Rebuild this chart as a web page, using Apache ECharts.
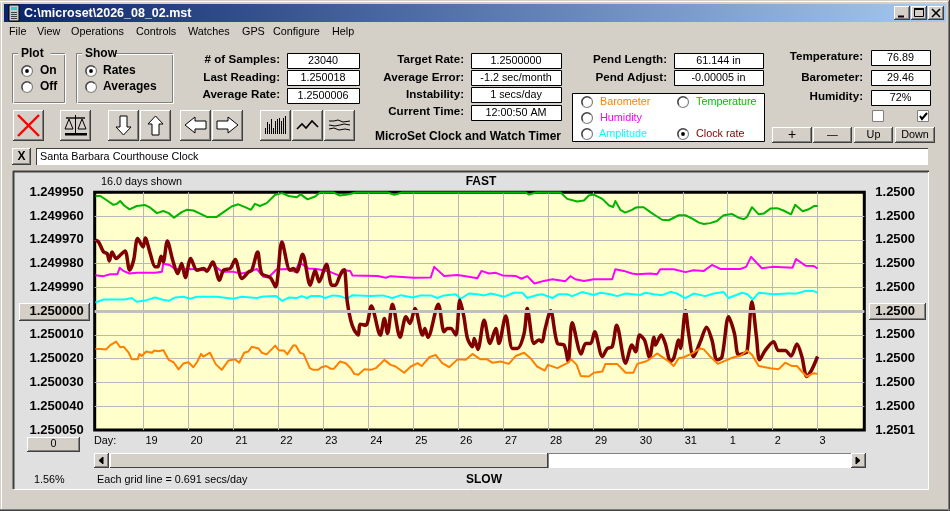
<!DOCTYPE html>
<html><head><meta charset="utf-8">
<style>html,body{margin:0;padding:0;background:#d4d0c8}#c{width:950px;height:511px}</style>
<script src="https://cdn.jsdelivr.net/npm/echarts@6/dist/echarts.min.js"></script>
</head><body><div id="c"></div>
<script>
// Rates are stored as the offset from 1.250000 in millionths; days run on past 31 into the next month.
const dayTicks=[19,20,21,22,23,24,25,26,27,28,29,30,31,32,33,34];
const dayLabels=['19','20','21','22','23','24','25','26','27','28','29','30','31','1','2','3'];
const leftTicks=['1.249950','1.249960','1.249970','1.249980','1.249990','1.250000','1.250010','1.250020','1.250030','1.250040','1.250050'];
const rightTicks=['1.2500','1.2500','1.2500','1.2500','1.2500','1.2500','1.2500','1.2500','1.2500','1.2500','1.2501'];
const clockRate=[[17.93,-29.8],[18,-29.1],[18.11,-24.9],[18.19,-24.2],[18.24,-21.1],[18.3,-24.9],[18.39,-22.1],[18.48,-23.5],[18.59,-25.3],[18.69,-17.2],[18.78,-21.4],[18.87,-30.5],[18.99,-27],[19.04,-30.7],[19.15,-24.2],[19.26,-18.6],[19.32,-18.6],[19.39,-23.1],[19.44,-20.7],[19.53,-29.5],[19.65,-21.4],[19.76,-15.8],[19.85,-20],[19.93,-14.1],[20.05,-22.1],[20.19,-17.2],[20.34,-17.9],[20.41,-16.8],[20.54,-20.7],[20.69,-13],[20.78,-17.2],[20.93,-17.9],[21.04,-21.7],[21.19,-13.7],[21.34,-16.5],[21.41,-17.2],[21.54,-24.9],[21.63,-15.8],[21.82,-14.1],[21.94,-10.2],[22.08,-29.1],[22.26,-17.2],[22.34,-17.9],[22.41,-16.5],[22.54,-23.9],[22.71,-10.9],[22.82,-17.2],[22.91,-12.3],[23.07,-19.7],[23.19,-10.9],[23.27,-10.9],[23.36,-14.4],[23.43,-17],[23.47,-17.4],[23.5,-13],[23.53,-4.6],[23.61,3.8],[23.69,8],[23.78,10.1],[23.82,5.5],[23.95,5.9],[24.07,-2.1],[24.27,10.1],[24.36,3.1],[24.43,9.4],[24.54,-2.9],[24.71,11],[24.84,2.4],[24.93,5.2],[25.04,-1.1],[25.21,10.1],[25.26,7.3],[25.33,11],[25.56,-2.9],[25.69,8.7],[25.76,7.3],[25.84,7.3],[25.95,10.1],[26.04,-4.6],[26.13,2.4],[26.21,11.5],[26.32,15],[26.36,11.5],[26.44,16.1],[26.58,3.8],[26.71,13.6],[26.84,7.3],[26.91,13.6],[27.06,2.1],[27.21,15.7],[27.32,15.7],[27.47,9.4],[27.54,-1.1],[27.69,13.6],[27.8,12.2],[27.87,12.9],[27.93,8],[28.06,-0.1],[28.21,13.6],[28.36,14.3],[28.45,21.2],[28.54,4.9],[28.74,18],[28.84,13.6],[28.95,13.6],[29.04,8.7],[29.21,19.1],[29.32,15.7],[29.43,15],[29.53,5.9],[29.73,21.9],[29.87,14.3],[29.95,17.1],[30.04,10.1],[30.15,12.2],[30.26,19.4],[30.36,11],[30.39,14.3],[30.52,10.1],[30.61,13.6],[30.73,21.2],[30.8,19.8],[30.91,12.2],[30.95,15.7],[31.06,-0.1],[31.13,9.4],[31.24,19.1],[31.39,12.9],[31.53,6.8],[31.65,12.2],[31.76,20.5],[31.87,19.4],[32.02,2.4],[32.15,9.4],[32.24,18.4],[32.36,17.8],[32.43,17.1],[32.54,-3.9],[32.64,10.8],[32.71,20.5],[32.84,16.4],[33.02,12.9],[33.13,16.6],[33.28,16.6],[33.41,18.9],[33.54,13.8],[33.65,19.1],[33.76,27.5],[33.87,24.7],[34,19.1]];
const barometer=[[17.93,15.9],[18.04,15.9],[18.17,16.1],[18.26,14.3],[18.39,12.8],[18.48,15.2],[18.56,15],[18.67,17.5],[18.74,20.3],[18.87,20.3],[18.91,18],[18.96,18.9],[19.06,17],[19.19,17.5],[19.24,16.6],[19.33,16.9],[19.44,16.4],[19.56,20.5],[19.67,21.5],[19.78,24.5],[19.89,22],[20,21.5],[20.11,23.6],[20.2,21.2],[20.28,18],[20.33,19.1],[20.48,17.5],[20.61,22.4],[20.74,24.7],[20.89,20.8],[21.04,20.3],[21.13,21.7],[21.24,17.5],[21.33,17],[21.41,15],[21.56,15.7],[21.63,17.5],[21.74,18.2],[21.85,16.1],[21.93,14.5],[22.02,16.6],[22.13,16.6],[22.2,18.2],[22.33,14.5],[22.39,14.5],[22.48,17.5],[22.56,18],[22.7,24],[22.78,24.7],[22.89,24.7],[22.96,23.6],[23.07,23.1],[23.16,24.2],[23.24,24.2],[23.37,21.2],[23.5,21.9],[23.61,24],[23.69,26.4],[23.78,26.8],[23.91,24.5],[24.06,24.7],[24.17,24],[24.36,20.5],[24.5,22.6],[24.61,23.3],[24.8,25.9],[24.95,23.3],[25.1,21.9],[25.19,23.1],[25.36,19.4],[25.5,18.4],[25.65,21.9],[25.8,23.6],[25.99,20.3],[26.17,20.5],[26.32,18],[26.5,20.3],[26.65,20.3],[26.76,21.7],[26.95,21.2],[27.13,22.2],[27.28,18.9],[27.47,17.5],[27.61,19.8],[27.76,23.3],[27.93,25],[28,22.6],[28.21,24],[28.43,21.9],[28.52,20.3],[28.64,22.6],[28.73,27.3],[28.91,27.5],[29.02,25.9],[29.21,25.4],[29.28,22.2],[29.54,22.2],[29.73,25.9],[29.9,25.9],[29.99,22.2],[30.17,21.2],[30.24,20.5],[30.32,19.4],[30.43,17.8],[30.58,19.8],[30.69,21.2],[30.8,23.1],[30.91,19.8],[31.02,19.4],[31.21,17.8],[31.39,15.7],[31.47,16.1],[31.61,19.1],[31.78,22.2],[31.99,20.5],[32.13,19.4],[32.28,18.9],[32.43,16.6],[32.54,18.4],[32.69,23.1],[32.95,24],[33.13,24.5],[33.28,21.7],[33.43,23.1],[33.54,23.1],[33.65,25.4],[33.76,27.5],[33.91,26.1],[34,26.4]];
const temperature=[[17.93,-48.4],[18.04,-48.4],[18.19,-46.5],[18.33,-44.7],[18.41,-45.1],[18.48,-46.3],[18.57,-44.4],[18.69,-42.8],[18.85,-44.2],[19.04,-44.6],[19.15,-43.5],[19.3,-41.2],[19.44,-42.1],[19.56,-41.2],[19.68,-39.3],[19.85,-41.6],[19.96,-42.6],[20.11,-42.3],[20.26,-41],[20.41,-39.6],[20.63,-39.6],[20.78,-41.6],[20.96,-44],[21.11,-44.9],[21.26,-43.7],[21.39,-42.6],[21.48,-45.1],[21.59,-44.2],[21.74,-45.4],[21.93,-48.9],[22.08,-49.6],[22.23,-48.4],[22.41,-47.9],[22.5,-49.1],[22.65,-47],[22.82,-48.2],[22.93,-49.9],[23.22,-49.9],[23.37,-48.6],[23.39,-49.3],[23.54,-49],[23.73,-49.9],[24.43,-49.9],[24.58,-48.9],[24.76,-49.9],[27.5,-49.9],[27.58,-49],[27.73,-49.9],[28.28,-49.9],[28.43,-47.2],[28.65,-46.1],[28.8,-46.5],[28.91,-48.6],[29.02,-49],[29.21,-47.2],[29.36,-44.4],[29.45,-43.8],[29.5,-46.3],[29.61,-42.6],[29.72,-41.4],[29.87,-42.6],[29.95,-43.5],[30,-43.7],[30.13,-43.7],[30.28,-41.6],[30.41,-40],[30.54,-38.4],[30.69,-38.2],[30.91,-40.3],[31.06,-40.3],[31.21,-38.9],[31.36,-37.2],[31.47,-36.6],[31.61,-37],[31.76,-37.9],[31.91,-40.3],[32.1,-40.8],[32.24,-39.3],[32.36,-38.6],[32.43,-39.6],[32.54,-43.7],[32.69,-40.7],[32.8,-41],[32.95,-43.1],[33.1,-43.3],[33.24,-42.3],[33.41,-40.7],[33.5,-44.7],[33.67,-42],[33.8,-42.8],[33.93,-44.2],[34,-44.2]];
const humidity=[[17.93,-15.1],[18.11,-14.7],[18.26,-15.5],[18.42,-15.5],[18.47,-18.2],[18.56,-16.8],[18.69,-15.8],[18.85,-16.1],[19.26,-16.1],[19.41,-16.5],[19.44,-20],[19.59,-19.3],[19.7,-17.7],[19.89,-17.7],[20.19,-17.6],[20.33,-17.2],[20.44,-17.5],[20.52,-19.7],[20.63,-18.3],[20.76,-16.5],[21,-16.5],[21.19,-15.8],[21.34,-16.5],[21.52,-17.7],[21.67,-14.4],[21.78,-14.1],[21.96,-17.5],[22.19,-17.7],[22.37,-16.5],[22.47,-20.5],[22.67,-17.9],[22.85,-17.7],[23.11,-16.8],[23.37,-14.8],[23.47,-17.2],[23.6,-16.9],[23.65,-15],[24.21,-14.8],[24.39,-14],[24.5,-14.7],[25.02,-14],[25.39,-14.1],[25.47,-18.6],[25.69,-14.8],[25.99,-15.2],[26.24,-14.4],[26.43,-13.8],[26.52,-16.9],[26.69,-15.8],[26.84,-16.1],[26.99,-15],[27.28,-14.8],[27.41,-13.6],[27.54,-14.7],[27.7,-11.6],[27.91,-12.7],[28.1,-13.4],[28.39,-12.6],[28.5,-14.7],[28.61,-13.4],[28.8,-12.7],[29.02,-13.4],[29.43,-13.4],[29.5,-17.6],[29.69,-16.9],[29.87,-15.8],[29.99,-15.5],[30.28,-15.8],[30.43,-15.5],[30.5,-17.6],[30.8,-17.6],[31.06,-16.4],[31.24,-17.2],[31.47,-16.9],[31.65,-19.4],[31.84,-17.7],[32.28,-17.7],[32.41,-18.6],[32.52,-22.8],[32.76,-18],[32.99,-18.6],[33.44,-18.2],[33.52,-21.9],[33.73,-19.1],[33.91,-19],[34,-17.9]];
const amplitude=[[17.93,-3.6],[18.11,-4.9],[18.33,-4.9],[18.59,-4.9],[18.74,-5.5],[18.85,-3.9],[19.07,-4.6],[19.26,-5.7],[19.41,-4.9],[19.56,-4.3],[19.7,-5.7],[19.89,-6],[20.04,-5.2],[20.19,-6],[20.63,-6],[21,-5.2],[21.19,-6],[21.52,-5.5],[21.67,-6.1],[21.95,-6.3],[22.09,-4.3],[22.23,-5.7],[22.41,-5.5],[22.52,-6.3],[22.63,-5.5],[22.74,-6.4],[22.93,-6.3],[23.04,-5.5],[23.22,-6.6],[23.37,-6.3],[23.53,-5.2],[23.65,-6.7],[24.06,-6.3],[24.32,-6.6],[24.54,-5.5],[24.73,-6.7],[24.99,-5.7],[25.17,-6.6],[25.39,-6.6],[25.54,-5.5],[25.69,-6.6],[25.95,-7.1],[26.06,-5.2],[26.24,-7.4],[26.43,-7.1],[26.58,-6.6],[26.73,-7.4],[26.87,-6.8],[27.02,-6],[27.24,-7.7],[27.43,-7.7],[27.54,-5.5],[27.76,-6.8],[27.87,-7.1],[28.1,-5.5],[28.24,-7.1],[28.43,-7.1],[28.54,-6.3],[28.76,-8],[29.02,-6.8],[29.17,-7.7],[29.39,-7.1],[29.54,-6.3],[29.73,-7.4],[30.06,-6.8],[30.17,-7.7],[30.36,-7.1],[30.54,-6.7],[30.73,-8.1],[30.87,-7.4],[31.06,-5.5],[31.24,-7.4],[31.5,-6.3],[31.69,-7.4],[31.91,-8],[32.02,-5.5],[32.32,-7.7],[32.44,-7.1],[32.56,-4.9],[32.69,-7.7],[33.02,-7.1],[33.32,-7.4],[33.54,-7.4],[33.73,-8.5],[33.91,-8.5],[34,-7.7]];

const F='"Liberation Sans",Arial,sans-serif';
const els=[];
const Z=-5;
function rect(x,y,w,h,fill,stroke,lw){els.push({type:'rect',silent:true,z:Z,shape:{x,y,width:w,height:h},style:{fill:fill||'transparent',stroke:stroke||null,lineWidth:lw||1}});}
function line(x1,y1,x2,y2,c,lw){els.push({type:'line',silent:true,z:Z,shape:{x1,y1,x2,y2},style:{stroke:c,lineWidth:lw||1}});}
function txt(x,y,s,o){o=o||{};els.push({type:'text',silent:true,z:Z+1,style:{x,y,text:s,fill:o.c||'#000',font:(o.b?'bold ':'')+(o.s||(o.b?12:10.8))+'px '+F,align:o.a||'left',verticalAlign:'middle'}});}
function poly(pts,fill,stroke,lw){els.push({type:fill?'polygon':'polyline',silent:true,z:Z,shape:{points:pts},style:{fill:fill||null,stroke:stroke||'#000',lineWidth:lw||1}});}
function button(x,y,w,h,label,o){
  rect(x,y,w,h,'#d4d0c8');
  line(x,y+.5,x+w,y+.5,'#fff');line(x+.5,y,x+.5,y+h,'#fff');
  line(x,y+h-.5,x+w,y+h-.5,'#404040');line(x+w-.5,y,x+w-.5,y+h,'#404040');
  line(x+1,y+h-1.5,x+w-1,y+h-1.5,'#808080');line(x+w-1.5,y+1,x+w-1.5,y+h-1,'#808080');
  if(label)txt(x+w/2,y+h/2+(o&&o.dy||0),label,Object.assign({a:'center'},o||{}));
}
function field(x,y,w,h,label){rect(x+.5,y+.5,w,h,'#fff','#000',1);txt(x+w/2,y+h/2+1,label,{a:'center'});}
function radio(x,y,on){
  els.push({type:'circle',silent:true,z:Z,shape:{cx:x,cy:y,r:5.5},style:{fill:'#fff',stroke:'#808080',lineWidth:1.2}});
  els.push({type:'arc',silent:true,z:Z,shape:{cx:x,cy:y,r:5,startAngle:Math.PI*.8,endAngle:Math.PI*1.75},style:{stroke:'#404040',fill:null,lineWidth:1.2}});
  if(on)els.push({type:'circle',silent:true,z:Z,shape:{cx:x,cy:y,r:1.9},style:{fill:'#000'}});
}
function group(x,y,w,h,title,tx){
  rect(x+.5,y+.5,w,h,null,'#808080');rect(x+1.5,y+1.5,w,h,null,'#fff');
  rect(tx-3,y-4,title.length*7.2+4,9,'#d4d0c8');
  txt(tx,y+1,title,{b:1,s:12});
}

// window
rect(0,0,950,511,'#d4d0c8');
line(0,.5,950,.5,'#d4d0c8');line(0,1.5,950,1.5,'#fff');line(1.5,1,1.5,511,'#fff');
line(0,510.5,950,510.5,'#404040');line(949.5,0,949.5,511,'#404040');line(0,509.5,950,509.5,'#808080');line(948.5,1,948.5,511,'#808080');
els.push({type:'rect',silent:true,z:Z,shape:{x:4,y:4,width:942,height:18},style:{fill:new echarts.graphic.LinearGradient(0,0,1,0,[{offset:0,color:'#0a246a'},{offset:1,color:'#a6caf0'}])}});
// title icon
rect(9,5,10,16,'#c8c8c8','#000');rect(11,7,6,3,'#30d0d0');
for(const yy of [12,14,16,18])line(11,yy+.5,17,yy+.5,'#404040');
txt(24,13.5,'C:\\microset\\2026_08_02.mst',{b:1,s:12.5,c:'#fff'});
button(894,6,16,14);line(898,16.5,904,16.5,'#000',2);
button(911,6,16,14);rect(914.5,8.5,9,8,null,'#000');line(914,9,924,9,'#000',2);
button(928,6,16,14);line(932,9,940,17,'#000',1.6);line(940,9,932,17,'#000',1.6);
// menu
[['File',9],['View',37],['Operations',71],['Controls',136],['Watches',188],['GPS',242],['Configure',273],['Help',332]].forEach(m=>txt(m[1],32,m[0]));
// groups
group(12,53,52,49,'Plot',21);radio(27,71,true);radio(27,87,false);
txt(40,71,'On',{b:1});txt(40,87,'Off',{b:1});
group(76,53,96,49,'Show',85);radio(91,71,true);radio(91,87,false);
txt(103,71,'Rates',{b:1});txt(103,87,'Averages',{b:1});
// readouts
const LB={b:1,a:'right',s:11.6};
[['# of Samples:',60,'23040',53],['Last Reading:',78,'1.250018',70],['Average Rate:',95,'1.2500006',88]].forEach(r=>{txt(280,r[1],r[0],LB);field(287,r[3],72,15,r[2]);});
[['Target Rate:',60,'1.2500000',53],['Average Error:',78,'-1.2 sec/month',70],['Instability:',95,'1 secs/day',87],['Current Time:',112,'12:00:50 AM',105]].forEach(r=>{txt(464,r[1],r[0],LB);field(471,r[3],90,15,r[2]);});
txt(375,137,'MicroSet Clock and Watch Timer',{b:1});
[['Pend Length:',60,'61.144 in',53],['Pend Adjust:',78,'-0.00005 in',70]].forEach(r=>{txt(667,r[1],r[0],LB);field(674,r[3],89,15,r[2]);});
[['Temperature:',57,'76.89',50],['Barometer:',78,'29.46',70],['Humidity:',97,'72%',90]].forEach(r=>{txt(863,r[1],r[0],LB);field(871,r[3],59,15,r[2]);});
// legend box
rect(572.5,93.5,192,48,'#fff','#000');
radio(587,102,false);radio(587,118,false);radio(587,134,false);radio(683,102,false);radio(683,134,true);
txt(600,102,'Barometer',{c:'#ff8000'});txt(600,118,'Humidity',{c:'#ff00ff'});txt(599,134,'Amplitude',{c:'#00ffff'});
txt(696,102,'Temperature',{c:'#00c000'});txt(696,134,'Clock rate',{c:'#800000'});
// checkboxes
function check(x,y,on){rect(x+.5,y+.5,11,11,'#fff','#808080');line(x+12.5,y,x+12.5,y+13,'#d4d0c8');if(on)poly([[x+3,y+6],[x+5,y+9],[x+10,y+3]],null,'#000',2);}
check(872,110,false);check(917,110,true);
button(772,127,40,16,'+',{s:14});button(813,127,39,16,'—');button(854,127,39,16,'Up');button(895,127,40,16,'Down');
// tool buttons
button(13,110,31,31);line(18,115,39,136,'#ff0000',2.4);line(39,115,18,136,'#ff0000',2.4);
button(60,110,31,31);
line(75.5,115,75.5,135,'#000',1);line(66,118,85,118,'#000',1.4);
poly([[65,129],[69,119],[73,129],[65,129]],null,'#000');poly([[78,129],[82,119],[86,129],[78,129]],null,'#000');
rect(65,133,22,2.5,'#000');
button(108,110,31,31);poly([[120,116],[127,116],[127,127],[131,127],[123.5,135],[116,127],[120,127]],'#fff','#000');
button(140,110,31,31);poly([[152,135],[159,135],[159,124],[163,124],[155.5,116],[148,124],[152,124]],'#fff','#000');
button(180,110,31,31);poly([[206,121],[195,121],[195,117],[185,125],[195,133],[195,129],[206,129]],'#fff','#000');
button(212,110,31,31);poly([[217,121],[228,121],[228,117],[238,125],[228,133],[228,129],[217,129]],'#fff','#000');
button(260,110,31,31);
[[265,128],[267,122],[269,124],[271,119],[273,128],[275,121],[277,119],[279,118],[281,121],[283,118],[285,116]].forEach(b=>line(b[0]+.5,b[1],b[0]+.5,134,'#000',1));
button(292,110,31,31);poly([[297,129],[302,124],[306,128],[312,121],[318,127]],null,'#000',1.6);
button(324,110,31,31);poly([[329,121],[334,121],[338,120],[343,122],[350,121]],null,'#000',1);poly([[329,125],[335,126],[340,125],[344,124],[350,125]],null,'#000',1);poly([[329,129],[334,128],[339,130],[345,129],[350,130]],null,'#000',1);
// annotation row
button(12,148,19,17,'X',{b:1,s:12});
rect(36,148,892,17,'#fff');line(36,148.5,928,148.5,'#404040');line(36.5,148,36.5,165,'#404040');line(36,165.5,928,165.5,'#d4d0c8');
txt(40,157,'Santa Barbara Courthouse Clock');
// plot panel
rect(13,171,915,318,'#e0e0e0');
line(13,171.5,929,171.5,'#404040',2);line(13.5,171,13.5,489,'#404040',2);
line(14,489.5,929,489.5,'#fff');line(928.5,172,928.5,490,'#fff');
txt(101,182,'16.0 days shown');txt(481,182,'FAST',{b:1,a:'center'});
txt(94,441,'Day:');
button(19,303,71,18);button(869,303,57,17);
button(27,437,53,15,'0');
// scrollbar
rect(94,453,772,15,'#fff');rect(110,453,438,15,'#d4d0c8');
line(110,453.5,548,453.5,'#fff');line(110.5,453,110.5,468,'#fff');line(110,467.5,548,467.5,'#404040');line(547.5,453,547.5,468,'#404040');
line(548,453.5,851,453.5,'#808080');line(548.5,453,548.5,468,'#808080');
button(94,453,15,15);poly([[99,460.5],[103,457],[103,464]],'#000','#000');
button(851,453,15,15);poly([[860,460.5],[856,457],[856,464]],'#000','#000');
txt(34,480,'1.56%');txt(97,480,'Each grid line = 0.691 secs/day');txt(484,480,'SLOW',{b:1,a:'center'});

const lineSeries=(name,data,color,width,extra)=>Object.assign({name,type:'line',data,showSymbol:false,symbol:'none',lineStyle:{color,width,join:'round'},clip:false,silent:true},extra||{});
const chart=echarts.init(document.getElementById('c'),null,{renderer:'canvas',width:950,height:511});
chart.setOption({
  animation:false,
  graphic:{elements:els},
  grid:{show:true,left:94.7,right:85.7,top:192.2,bottom:81,backgroundColor:'#ffffcc',borderColor:'#000',borderWidth:3},
  xAxis:{type:'value',min:17.914,max:35.04,
    axisLine:{show:false},
    axisTick:{show:true,length:19,lineStyle:{color:'#b8b8b8',width:1},customValues:dayTicks},
    axisLabel:{customValues:dayTicks,formatter:v=>dayLabels[dayTicks.indexOf(v)],align:'left',padding:[0,0,0,2],margin:5,color:'#000',fontFamily:F,fontSize:11,showMinLabel:true,showMaxLabel:true},
    splitLine:{show:true,lineStyle:{color:'#b8b8b8',width:1}}},
  yAxis:[
    {type:'value',min:-50,max:50,interval:10,inverse:true,axisLine:{show:false},axisTick:{show:false},
     axisLabel:{formatter:v=>leftTicks[(v+50)/10],margin:11,color:'#000',fontFamily:F,fontSize:13,fontWeight:'bold'},
     splitLine:{show:true,showMinLine:false,showMaxLine:false,lineStyle:{color:'#b8b8b8',width:1}},z:3},
    {type:'value',min:-50,max:50,interval:10,inverse:true,position:'right',axisLine:{show:false},axisTick:{show:false},
     axisLabel:{formatter:v=>rightTicks[(v+50)/10],margin:11,color:'#000',fontFamily:F,fontSize:13,fontWeight:'bold'},
     splitLine:{show:false},z:3}
  ],
  series:[
    lineSeries('Temperature',temperature,'#00b400',2,{markLine:{silent:true,symbol:'none',label:{show:false},lineStyle:{color:'#c0c0c0',width:3,type:'solid'},data:[{yAxis:0}]}}),
    lineSeries('Humidity',humidity,'#ff00ff',2),
    lineSeries('Amplitude',amplitude,'#00ffff',2),
    lineSeries('Clock rate',clockRate,'#800000',3.5,{smooth:0.3}),
    lineSeries('Barometer',barometer,'#ff8000',2)
  ]
});
</script></body></html>
